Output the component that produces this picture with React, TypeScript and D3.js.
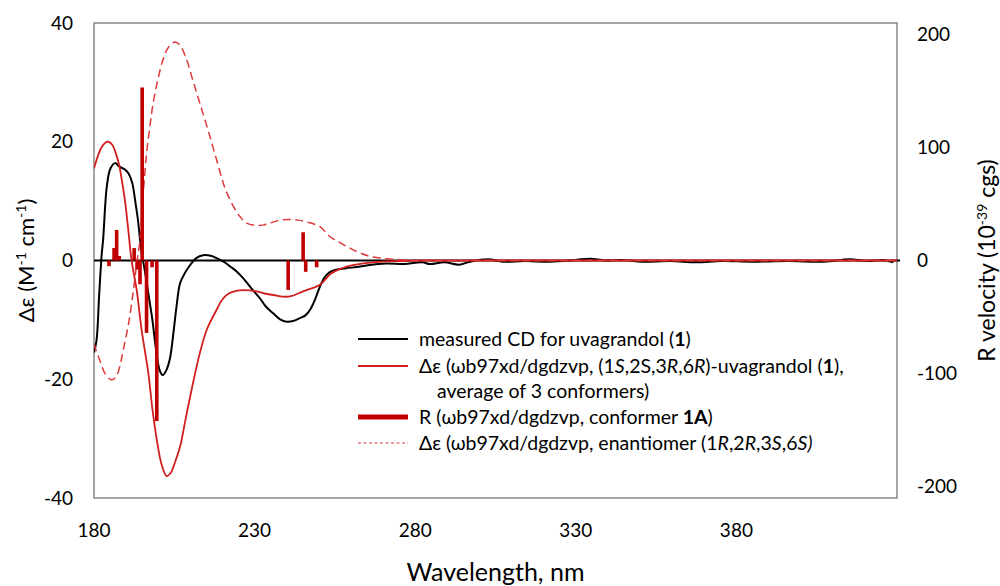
import React from "react";
import * as d3 from "d3";

// ---------- data ----------
const measuredWl = [180, 180.8, 181.59, 182.39, 182.84, 183.98, 185.11, 186.59, 187.95, 189.66, 190.8, 191.93, 192.84, 193.64, 194.77, 195.91, 197.05, 198.18, 199.32, 200.45, 201.36, 202.5, 203.64, 204.77, 205.68, 206.82, 208.41, 209.89, 211.82, 213.98, 216.36, 218.18, 220.34, 222.39, 224.32, 226.48, 228.86, 231.7, 233.41, 235.8, 237.95, 240.0, 241.93, 244.09, 245.91, 247.27, 248.86, 250.34, 251.59, 253.3, 255.0, 258.41, 261.82, 265.23, 270.91, 276.59, 282.27, 284.55, 289.09, 293.64, 297.05, 302.73, 307.27, 314.09, 322.05, 330.0, 334.55, 339.09, 344.77, 350.45, 359.55, 367.5, 375.45, 384.55, 395.91, 407.27, 415.23, 420.91, 425.45, 428.86];
const measuredDe = [-15.5, -13.4, -6, 1, 3.5, 12.4, 15.5, 16.4, 15.8, 15.3, 14.6, 13, 10, 7, 1.5, -2, -6, -10, -15, -18.5, -19.3, -18.5, -16.5, -12, -7.8, -3.8, -2, -0.8, 0.4, 0.9, 0.8, 0.4, -0.2, -1.0, -1.8, -3.0, -4.6, -6.4, -7.7, -8.9, -9.9, -10.3, -10.2, -9.7, -9.2, -8.3, -6.5, -4.4, -3, -2.0, -1.6, -1.3, -1.1, -0.8, -0.5, -0.6, -0.3, -0.6, -0.3, -0.7, -0.2, 0.2, -0.2, -0.1, -0.2, 0.1, 0.3, 0, 0.1, -0.2, -0.1, -0.3, -0.1, -0.2, -0.1, -0.2, 0.2, -0.1, 0.1, -0.3];

const calcWl = [180, 181.14, 182.27, 183.41, 184.43, 185.68, 186.82, 187.95, 188.64, 189.66, 190.68, 191.7, 193.3, 194.77, 196.93, 198.18, 199.55, 201.02, 202.61, 203.86, 205.34, 206.82, 208.41, 210.68, 212.95, 215.23, 218.18, 219.77, 221.82, 224.32, 226.59, 230.68, 233.41, 236.82, 239.09, 241.36, 245.11, 248.18, 250.34, 253.86, 257.27, 259.55, 265.23, 270.91, 282.27, 316.36, 373.18, 430];
const calcDe = [15.5, 17.5, 19, 19.8, 20.0, 19.5, 18, 15.8, 13.6, 10, 5.1, 0, -5.0, -11.5, -19, -25, -30.2, -34.3, -36.3, -35.8, -33.8, -31.3, -27, -21, -15.6, -11.5, -8.3, -6.7, -5.6, -5.1, -5.0, -5.2, -5.6, -5.9, -6.1, -6.0, -5.2, -4.6, -4.1, -2.2, -1.3, -0.9, -0.4, -0.15, 0, 0, 0, 0];

const enantWl = [180, 180.57, 181.82, 183.41, 185.45, 186.82, 187.95, 189.09, 190.8, 192.27, 193.3, 194.32, 195.34, 196.36, 197.39, 198.41, 199.89, 201.59, 203.3, 205.23, 206.7, 208.86, 210.68, 212.95, 216.14, 219.2, 220.91, 223.41, 225.45, 227.5, 230.68, 232.84, 234.77, 237.95, 241.02, 243.64, 246.25, 250.34, 253.52, 257.27, 260.68, 265.23, 270.91, 276.59, 282.27, 316.36, 373.18, 430];
const enantDe = [-14, -15, -16.8, -19, -20.1, -19.6, -18, -15.1, -10.5, -5.0, -0.5, 3.5, 11.3, 18.0, 22.5, 26.5, 30.5, 34, 36, 36.8, 36.3, 33.8, 30.5, 26.5, 20.8, 15.0, 12, 9.1, 7.4, 6.3, 5.9, 6.0, 6.3, 6.8, 6.9, 6.8, 6.5, 5.7, 4.0, 2.8, 1.8, 0.8, 0.3, 0.1, 0, 0, 0, 0];

const barWl = [184.66, 186.25, 187.05, 187.84, 192.5, 193.41, 194.32, 195.0, 196.36, 198.07, 199.55, 240.45, 245.11, 245.91, 249.32];
const barR = [-5, 11, 27, 4, 11, -8, -21, 153, -64, -6, -142, -26, 25, -10, -6];

const xTicks = [180, 230, 280, 330, 380];
const yLeftTicks = [-40, -20, 0, 20, 40];
const yRightTicks = [-200, -100, 0, 100, 200];

// ---------- layout ----------
const W = 1000, H = 586;
const L = 94, R = 897, T = 23, B = 498;
const FONT = "Lato, 'Open Sans', sans-serif";

export default function App() {
  const x = d3.scaleLinear().domain([180, 430]).range([L, R]);
  const yL = d3.scaleLinear().domain([-40, 40]).range([B, T]);
  const yR = d3.scaleLinear().domain([-210, 210]).range([B, T]);

  const mk = (wl: number[], v: number[]) =>
    d3.line<number>()
      .x((_, i) => x(wl[i]))
      .y((d) => yL(d))
      .curve(d3.curveCatmullRom.alpha(0.5))(v) || "";

  const legendX1 = 358, legendX2 = 408, textX = 419;
  const ly = [339, 366, 391, 417, 443];
  const fs = 19.5;
  const tfs = 19;

  return (
    <svg width={W} height={H} style={{ position: "absolute", left: 0, top: 0, background: "#fff" }}
      fontFamily={FONT}>
      <rect x={0} y={0} width={W} height={H} fill="#fff" />
      <defs>
        <clipPath id="plot"><rect x={L} y={T} width={R - L} height={B - T} /></clipPath>
      </defs>
      {/* plot border */}
      <rect x={L} y={T} width={R - L} height={B - T} fill="none" stroke="#7f7f7f" strokeWidth={1.4} />
      {/* zero line */}
      <line x1={L} x2={R + 3} y1={yL(0)} y2={yL(0)} stroke="#000" strokeWidth={2} />
      <g clipPath="url(#plot)">
        <path d={mk(measuredWl, measuredDe)} fill="none" stroke="#000" strokeWidth={2} />
        <path d={mk(calcWl, calcDe)} fill="none" stroke="#d21f1f" strokeWidth={1.8} />
        <path d={mk(enantWl, enantDe)} fill="none" stroke="#e0393c" strokeWidth={1.5} strokeDasharray="8,4.5" />
        {barWl.map((w, i) => (
          <rect key={i} x={x(w) - 1.8} width={3.6}
            y={Math.min(yR(0), yR(barR[i]))} height={Math.abs(yR(barR[i]) - yR(0))} fill="#c00000" />
        ))}
      </g>
      {/* tick labels */}
      {xTicks.map((t) => (
        <text key={t} x={x(t)} y={537} textAnchor="middle" fontSize={tfs} fill="#000">{t}</text>
      ))}
      {yLeftTicks.map((t) => (
        <text key={t} x={73} y={yL(t) + 6.5} textAnchor="end" fontSize={tfs} fill="#000">{t}</text>
      ))}
      {yRightTicks.map((t) => (
        <text key={t} x={917} y={yR(t) + 6.5} textAnchor="start" fontSize={tfs} fill="#000">{t}</text>
      ))}
      {/* axis titles */}
      <text transform={`translate(34,${(T + B) / 2}) rotate(-90)`} textAnchor="middle" fontSize={22} fill="#000">
        Δε (M<tspan fontSize={14} dy={-8}>-1</tspan><tspan dy={8}> cm</tspan><tspan fontSize={14} dy={-8}>-1</tspan><tspan dy={8}>)</tspan>
      </text>
      <text transform={`translate(995,${(T + B) / 2}) rotate(-90)`} textAnchor="middle" fontSize={23} fill="#000">
        R velocity (10<tspan fontSize={14} dy={-8}>-39</tspan><tspan dy={8}>  cgs)</tspan>
      </text>
      <text x={(L + R) / 2} y={581} textAnchor="middle" fontSize={25} fill="#000">Wavelength, nm</text>
      {/* legend */}
      <line x1={legendX1} x2={legendX2} y1={ly[0]} y2={ly[0]} stroke="#000" strokeWidth={2} />
      <text x={textX} y={ly[0] + 6.5} fontSize={fs}>measured CD for uvagrandol (<tspan fontWeight="bold">1</tspan>)</text>
      <line x1={legendX1} x2={legendX2} y1={ly[1]} y2={ly[1]} stroke="#d21f1f" strokeWidth={1.8} />
      <text x={textX} y={ly[1] + 6.5} fontSize={fs}>
        Δε (ωb97xd/dgdzvp, (1<tspan fontStyle="italic">S</tspan>,2S,3<tspan fontStyle="italic">R</tspan>,6<tspan fontStyle="italic">R</tspan>)-uvagrandol (<tspan fontWeight="bold">1</tspan>),
      </text>
      <text x={textX + 18} y={ly[2] + 6.5} fontSize={fs}>average of 3 conformers)</text>
      <line x1={legendX1} x2={legendX2} y1={ly[3]} y2={ly[3]} stroke="#c00000" strokeWidth={5} />
      <text x={textX} y={ly[3] + 6.5} fontSize={fs}>R (ωb97xd/dgdzvp, conformer <tspan fontWeight="bold">1A</tspan>)</text>
      <line x1={legendX1} x2={legendX2} y1={ly[4]} y2={ly[4]} stroke="#e0393c" strokeWidth={1.2} strokeDasharray="3,2.5" />
      <text x={textX} y={ly[4] + 6.5} fontSize={fs}>
        Δε (ωb97xd/dgdzvp, enantiomer (1<tspan fontStyle="italic">R</tspan>,2<tspan fontStyle="italic">R</tspan>,3<tspan fontStyle="italic">S</tspan>,6<tspan fontStyle="italic">S)</tspan>
      </text>
    </svg>
  );
}
